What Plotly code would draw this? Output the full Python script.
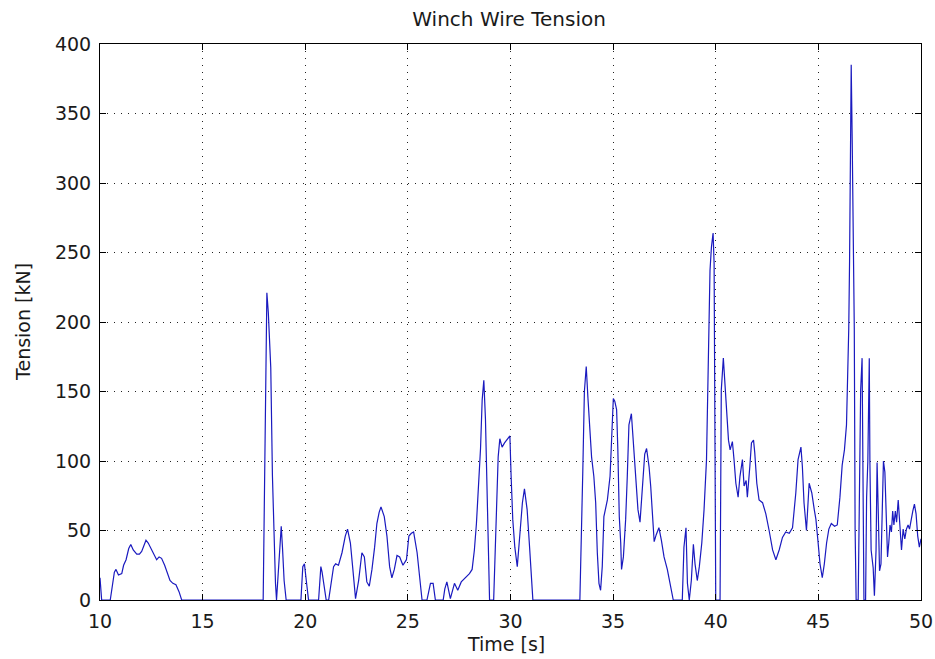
import plotly.graph_objects as go

# Winch wire tension record, time in seconds and tension in kN
time_s = [
    10.00, 10.08, 10.50, 10.58, 10.70, 10.78, 10.90, 11.06, 11.15, 11.27,
    11.40, 11.50, 11.62, 11.79, 11.92, 12.03, 12.15, 12.24, 12.35, 12.52,
    12.64, 12.76, 12.88, 13.00, 13.15, 13.28, 13.41, 13.55, 13.70, 13.85,
    13.98, 17.95, 18.00, 18.07, 18.13, 18.20, 18.32, 18.40, 18.49, 18.55,
    18.60, 18.70, 18.76, 18.83, 18.89, 18.97, 19.07, 19.79, 19.88, 19.96,
    20.05, 20.16, 20.65, 20.76, 20.82, 20.90, 21.02, 21.14, 21.25, 21.38,
    21.48, 21.62, 21.79, 21.95, 22.06, 22.20, 22.32, 22.45, 22.60, 22.76,
    22.88, 23.00, 23.12, 23.25, 23.38, 23.49, 23.60, 23.69, 23.85, 23.98,
    24.11, 24.22, 24.34, 24.47, 24.60, 24.76, 24.93, 25.05, 25.17, 25.28,
    25.45, 25.58, 25.69, 25.93, 26.02, 26.10, 26.23, 26.34, 26.72, 26.80,
    26.90, 27.07, 27.27, 27.43, 27.60, 27.80, 27.89, 28.00, 28.13, 28.24,
    28.34, 28.45, 28.54, 28.62, 28.70, 28.78, 28.83, 28.89, 28.98, 29.18,
    29.25, 29.32, 29.40, 29.48, 29.59, 29.71, 29.84, 29.97, 30.03, 30.11,
    30.21, 30.33, 30.45, 30.58, 30.68, 30.81, 30.93, 31.00, 31.09, 33.38,
    33.44, 33.52, 33.60, 33.69, 33.77, 33.87, 33.95, 34.06, 34.15, 34.23,
    34.31, 34.39, 34.47, 34.55, 34.63, 34.72, 34.85, 34.91, 35.01, 35.08,
    35.17, 35.23, 35.30, 35.37, 35.41, 35.50, 35.61, 35.69, 35.77, 35.89,
    35.98, 36.10, 36.21, 36.31, 36.42, 36.54, 36.63, 36.75, 36.83, 36.91,
    37.00, 37.10, 37.23, 37.35, 37.48, 37.64, 37.77, 37.93, 38.37, 38.45,
    38.55, 38.62, 38.71, 38.81, 38.91, 38.99, 39.10, 39.20, 39.32, 39.43,
    39.55, 39.63, 39.67, 39.72, 39.79, 39.87, 39.92, 39.95, 40.00, 40.21,
    40.27, 40.37, 40.44, 40.54, 40.62, 40.70, 40.81, 40.89, 40.98, 41.09,
    41.18, 41.30, 41.38, 41.48, 41.54, 41.66, 41.74, 41.84, 41.90, 42.00,
    42.11, 42.28, 42.44, 42.60, 42.77, 42.93, 43.09, 43.25, 43.41, 43.58,
    43.74, 43.90, 44.01, 44.15, 44.22, 44.30, 44.42, 44.55, 44.68, 44.80,
    44.88, 44.97, 45.08, 45.19, 45.29, 45.40, 45.51, 45.63, 45.79, 45.92,
    46.05, 46.16, 46.27, 46.37, 46.43, 46.48, 46.52, 46.56, 46.60, 46.65,
    46.70, 46.75, 46.79, 46.84, 46.94, 47.00, 47.06, 47.13, 47.19, 47.22,
    47.30, 47.35, 47.41, 47.48, 47.51, 47.57, 47.67, 47.73, 47.81, 47.86,
    47.92, 47.98, 48.05, 48.11, 48.17, 48.24, 48.30, 48.37, 48.43, 48.49,
    48.56, 48.62, 48.68, 48.75, 48.81, 48.89, 48.97, 49.05, 49.13, 49.21,
    49.29, 49.37, 49.44, 49.52, 49.60, 49.68, 49.76, 49.84, 49.92, 50.00,
]

tension_kn = [
    16, 0, 0, 8, 20, 22, 18, 19, 25, 29,
    37, 40, 36, 33, 33, 35, 40, 43, 41, 36,
    32, 29, 31, 30, 25, 19, 14, 12, 11, 6,
    0, 0, 55, 165, 221, 207, 167, 90, 38, 12,
    0, 25, 38, 53, 38, 14, 0, 0, 24, 26,
    14, 0, 0, 24, 20, 13, 0, 0, 12, 24,
    26, 25, 34, 46, 51, 41, 22, 1, 14, 34,
    31, 13, 10, 22, 38, 55, 63, 67, 60, 46,
    24, 16, 22, 32, 31, 25, 29, 46, 48, 49,
    34, 14, 0, 0, 8, 12, 12, 0, 0, 8,
    13, 1, 12, 7, 13, 16, 17, 19, 22, 36,
    55, 82, 109, 144, 158, 130, 101, 53, 0, 0,
    29, 72, 103, 116, 110, 113, 116, 118, 89, 58,
    38, 24, 46, 70, 80, 65, 38, 17, 0, 0,
    50, 91, 150, 168, 146, 118, 103, 89, 70, 34,
    12, 7, 24, 60, 65, 72, 89, 110, 145, 143,
    137, 108, 60, 41, 22, 31, 58, 89, 126, 134,
    115, 89, 65, 56, 79, 105, 109, 96, 82, 58,
    42, 47, 52, 43, 31, 22, 12, 0, 0, 38,
    52, 12, 0, 14, 40, 26, 14, 24, 41, 65,
    101, 156, 178, 237, 254, 264, 242, 175, 0, 0,
    151, 174, 156, 134, 115, 108, 114, 101, 84, 74,
    89, 101, 82, 86, 74, 96, 113, 115, 106, 84,
    72, 70, 62, 50, 36, 29, 36, 45, 49, 48,
    52, 77, 101, 110, 96, 70, 50, 84, 77, 65,
    58, 44, 26, 16, 26, 41, 51, 55, 53, 54,
    74, 97, 108, 126, 156, 195, 244, 349, 385, 328,
    241, 195, 51, 0, 0, 103, 151, 174, 87, 0,
    0, 74, 100, 174, 100, 36, 23, 3, 36, 99,
    62, 21, 26, 62, 100, 92, 62, 31, 41, 54,
    49, 64, 54, 64, 56, 72, 54, 36, 51, 44,
    51, 54, 51, 59, 64, 69, 62, 46, 38, 44,
]

x_ticks = [10, 15, 20, 25, 30, 35, 40, 45, 50]
y_ticks = [0, 50, 100, 150, 200, 250, 300, 350, 400]

FONT = "DejaVu Sans, sans-serif"
TEXT = "#1a1a1a"

fig = go.Figure()
fig.add_trace(go.Scatter(
    x=time_s, y=tension_kn, mode="lines",
    line=dict(color="#1a1abf", width=1.2),
    showlegend=False, hoverinfo="skip",
))

axis_common = dict(
    showline=True, linecolor="black", linewidth=1, mirror="allticks",
    ticks="inside", ticklen=6, tickwidth=1, tickcolor="black",
    showgrid=True, gridcolor="#222222", gridwidth=1, griddash="1px,6px",
    zeroline=False, automargin=False, ticklabelstandoff=4,
    layer="above traces",
    tickfont=dict(family=FONT, size=19, color=TEXT),
)

fig.update_layout(
    width=935, height=659,
    paper_bgcolor="white", plot_bgcolor="white",
    margin=dict(l=100, r=14, t=44, b=59),
    title=dict(text="Winch Wire Tension", x=0.5445, xanchor="center",
               y=0.971, yanchor="middle", yref="container",
               font=dict(family=FONT, size=20, color=TEXT)),
    xaxis=dict(range=[10, 50], tickvals=x_ticks, **axis_common),
    yaxis=dict(range=[0, 400], tickvals=y_ticks, **axis_common),
    annotations=[
        dict(text="Time [s]", xref="paper", yref="paper",
             x=0.494, y=-0.0785, xanchor="center", yanchor="middle",
             showarrow=False, font=dict(family=FONT, size=19, color=TEXT)),
        dict(text="Tension [kN]", xref="paper", yref="paper",
             x=-0.0932, y=0.501, xanchor="center", yanchor="middle",
             textangle=-90, showarrow=False,
             font=dict(family=FONT, size=19, color=TEXT)),
    ],
)

fig.write_html("out.html")
